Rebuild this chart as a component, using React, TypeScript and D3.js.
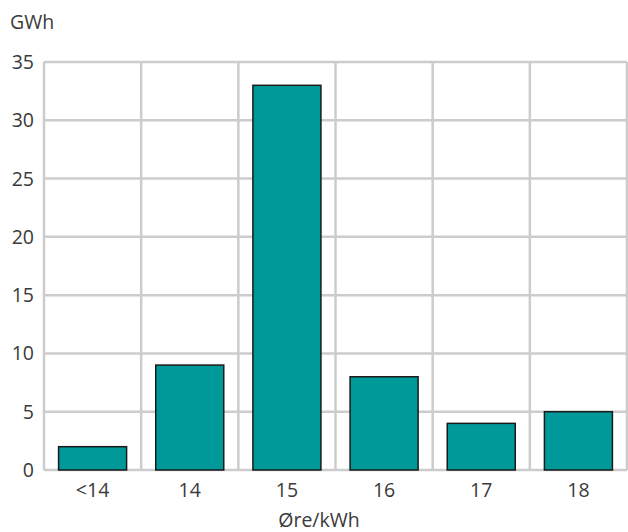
import * as d3 from "d3";

const CATEGORIES = ["<14", "14", "15", "16", "17", "18"];
const VALUES = [2, 9, 33, 8, 4, 5];
const Y_TICKS = [0, 5, 10, 15, 20, 25, 30, 35];

const WIDTH = 628;
const HEIGHT = 532;
const MARGIN = { top: 62, right: 1, bottom: 62, left: 44 };
const FONT = "'Open Sans', sans-serif";
const FONT_SIZE = 19.5;
const TEXT = "#3a3a3a";
const GRID = "#cccccc";

export default function App() {
  const innerW = WIDTH - MARGIN.left - MARGIN.right;
  const innerH = HEIGHT - MARGIN.top - MARGIN.bottom;

  const x = d3.scaleBand().domain(CATEGORIES).range([0, innerW]).paddingInner(0.3).paddingOuter(0.15);
  const y = d3.scaleLinear().domain([0, 35]).range([innerH, 0]);
  const boundaries = d3.range(CATEGORIES.length + 1).map((i) => i * (innerW / CATEGORIES.length));
  const textStyle = { font: `400 ${FONT_SIZE}px ${FONT}` };

  return (
    <svg
      width={WIDTH}
      height={HEIGHT}
      style={{ position: "absolute", left: 0, top: 0, background: "#fff" }}
    >
      <text x={10} y={29} fill={TEXT} style={textStyle}>
        GWh
      </text>
      <g transform={`translate(${MARGIN.left}, ${MARGIN.top})`}>
        {Y_TICKS.map((t) => (
          <g key={t}>
            <line x1={0} x2={innerW} y1={y(t)} y2={y(t)} stroke={GRID} strokeWidth={2.5} />
            <text x={-10} y={y(t)} dy="0.36em" textAnchor="end" fill={TEXT} style={textStyle}>
              {t}
            </text>
          </g>
        ))}
        {boundaries.map((b, i) => (
          <line key={i} x1={b} x2={b} y1={0} y2={innerH} stroke={GRID} strokeWidth={2.5} />
        ))}
        {CATEGORIES.map((c, i) => (
          <rect
            key={c}
            x={x(c)}
            y={y(VALUES[i])}
            width={x.bandwidth()}
            height={innerH - y(VALUES[i])}
            fill="#009999"
            stroke="#1a1a1a"
            strokeWidth={1.5}
          />
        ))}
        {CATEGORIES.map((c) => (
          <text
            key={c}
            x={(x(c) ?? 0) + x.bandwidth() / 2}
            y={innerH + 27}
            textAnchor="middle"
            fill={TEXT}
            style={textStyle}
          >
            {c}
          </text>
        ))}
      </g>
      <text x={319} y={527} textAnchor="middle" fill={TEXT} style={textStyle}>
        Øre/kWh
      </text>
    </svg>
  );
}
